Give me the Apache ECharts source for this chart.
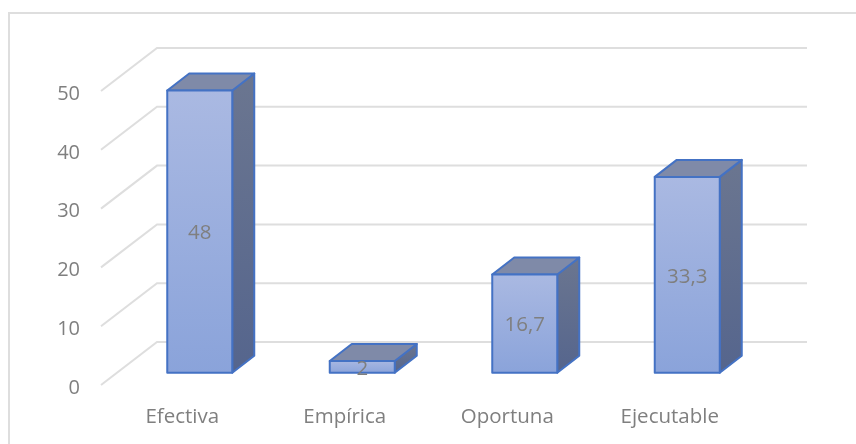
<!DOCTYPE html>
<html><head><meta charset="utf-8">
<style>html,body{margin:0;padding:0;background:#fff}#c{width:856px;height:444px}</style>
<script src="https://cdn.jsdelivr.net/npm/echarts@6/dist/echarts.min.js"></script>
</head><body><div id="c"></div>
<script>
const categories = ['Efectiva', 'Empírica', 'Oportuna', 'Ejecutable'];
const values = [48, 2, 16.7, 33.3];
const yTicks = [0, 10, 20, 30, 40, 50];

const wallDX = 56, wallDY = -43;
const barOffX = 17.5, barOffY = -12.3;
const barDX = 22, barDY = -17;
const barW = 65;
const lineColor = '#4472c4';
const gridColor = '#dedede';
const textColor = '#7f7f7f';
const font = '"Open Sans", "Noto Sans", sans-serif';

const chart = echarts.init(document.getElementById('c'), null, {renderer: 'canvas'});
const vGrad = (a, b) => new echarts.graphic.LinearGradient(0, 0, 0, 1, [{offset: 0, color: a}, {offset: 1, color: b}]);

chart.setOption({
  animation: false,
  backgroundColor: '#fff',
  graphic: [{type: 'polyline', silent: true, z: -10, shape: {points: [[9, 444], [9, 13], [856, 13]]}, style: {fill: null, stroke: '#dedede', lineWidth: 2}}],
  grid: {left: 101, right: 105, top: 91, bottom: 59},
  xAxis: {type: 'category', data: categories, axisLine: {show: false}, axisTick: {show: false}, splitLine: {show: false},
    axisLabel: {color: textColor, fontSize: 20.5, fontFamily: font, margin: 22}},
  yAxis: {type: 'value', min: 0, max: 50, interval: 10, axisLine: {show: false}, axisTick: {show: false}, splitLine: {show: false},
    axisLabel: {color: textColor, fontSize: 20, fontFamily: font, margin: 21, verticalAlign: 'top', lineHeight: 6}},
  series: [
    {type: 'custom', silent: true, z: 1, clip: false, coordinateSystem: 'cartesian2d',
     data: yTicks.map(v => [0, v]),
     encode: {y: 1},
     renderItem(params, api) {
       const y = api.coord([0, api.value(1)])[1];
       const r = params.coordSys;
       const x0 = r.x, x1 = r.x + r.width;
       return {type: 'polyline', shape: {points: [[x0, y], [x0 + wallDX, y + wallDY], [x1 + wallDX, y + wallDY]]},
         style: {fill: null, stroke: gridColor, lineWidth: 2}};
     }},
    {type: 'custom', z: 2, clip: false, coordinateSystem: 'cartesian2d',
     data: values.map((v, i) => [i, v]),
     encode: {x: 0, y: 1},
     renderItem(params, api) {
       const i = api.value(0), v = api.value(1);
       const top = api.coord([i, v]), base = api.coord([i, 0]);
       const xl = top[0] + barOffX - barW / 2, xr = xl + barW;
       const yt = top[1] + barOffY, yb = base[1] + barOffY;
       const stroke = {stroke: lineColor, lineWidth: 2, lineJoin: 'round'};
       return {type: 'group', children: [
         {type: 'polygon', shape: {points: [[xr, yt], [xr + barDX, yt + barDY], [xr + barDX, yb + barDY], [xr, yb]]},
          style: {fill: vGrad('#6b7690', '#55658d'), ...stroke}},
         {type: 'polygon', shape: {points: [[xl, yt], [xl + barDX, yt + barDY], [xr + barDX, yt + barDY], [xr, yt]]},
          style: {fill: '#7f8aa8', ...stroke}},
         {type: 'rect', shape: {x: xl, y: yt, width: barW, height: yb - yt},
          style: {fill: vGrad('#aab9e2', '#8aa3da'), ...stroke}},
         {type: 'text', z2: 10, style: {x: (xl + xr) / 2, y: (yt + yb) / 2 + 2, text: String(v).replace('.', ','),
           fill: textColor, fontSize: 20.5, fontFamily: font, align: 'center', verticalAlign: 'middle'}}
       ]};
     }}
  ]
});
</script></body></html>
